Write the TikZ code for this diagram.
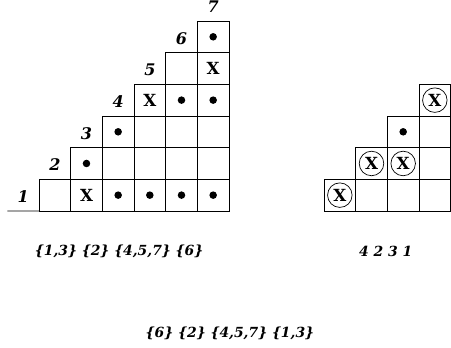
\documentclass[tikz,border=0pt]{standalone}
\usepackage{fontspec}
\setmainfont{DejaVu Serif}
\usepackage{tikz}
\usetikzlibrary{positioning}
\tikzset{
  cell/.style={draw, line width=0.6pt, minimum size=8mm, inner sep=0pt, outer sep=0pt, font=\fontsize{12}{14}\selectfont\bfseries},
  dotcell/.style={cell, path picture={\fill (path picture bounding box.center) circle[radius=0.95mm];}},
  ringcell/.style={cell, path picture={\draw[line width=0.5pt] (path picture bounding box.center) circle[radius=3.1mm];}},
  lab/.style={font=\fontsize{11.5}{14}\selectfont\bfseries\itshape, inner sep=0pt},
  word/.style={font=\fontsize{10}{12}\selectfont\bfseries\itshape, inner sep=0pt},
}
\begin{document}
\begin{tikzpicture}[x=0.8cm, y=0.8cm]
  \useasboundingbox (-0.231,-4.326) rectangle (14.01,6.662);
  % left staircase
  \node[cell] (a11) at (1.5,0.5) {};
  \node[cell] (a12) at (2.5,0.5) {X};
  \node[dotcell] (a13) at (3.5,0.5) {};
  \node[dotcell] (a14) at (4.5,0.5) {};
  \node[dotcell] (a15) at (5.5,0.5) {};
  \node[dotcell] (a16) at (6.5,0.5) {};
  \node[dotcell] (a22) at (2.5,1.5) {};
  \node[cell] (a23) at (3.5,1.5) {};
  \node[cell] (a24) at (4.5,1.5) {};
  \node[cell] (a25) at (5.5,1.5) {};
  \node[cell] (a26) at (6.5,1.5) {};
  \node[dotcell] (a33) at (3.5,2.5) {};
  \node[cell] (a34) at (4.5,2.5) {};
  \node[cell] (a35) at (5.5,2.5) {};
  \node[cell] (a36) at (6.5,2.5) {};
  \node[cell] (a44) at (4.5,3.5) {X};
  \node[dotcell] (a45) at (5.5,3.5) {};
  \node[dotcell] (a46) at (6.5,3.5) {};
  \node[cell] (a55) at (5.5,4.5) {};
  \node[cell] (a56) at (6.5,4.5) {X};
  \node[dotcell] (a66) at (6.5,5.5) {};
  \coordinate (base) at (0,0);
  \draw[line width=0.6pt] (base) -- (a11.south west);
  \node[lab] (k1) at (0.5,0.45) {1};
  \node[lab] (k2) at (1.5,1.45) {2};
  \node[lab] (k3) at (2.5,2.45) {3};
  \node[lab] (k4) at (3.5,3.45) {4};
  \node[lab] (k5) at (4.5,4.45) {5};
  \node[lab] (k6) at (5.5,5.45) {6};
  \node[lab] (k7) at (6.5,6.45) {7};
  % right staircase
  \node[ringcell] (b11) at (10.5,0.5) {X};
  \node[cell] (b12) at (11.5,0.5) {};
  \node[cell] (b13) at (12.5,0.5) {};
  \node[cell] (b14) at (13.5,0.5) {};
  \node[ringcell] (b22) at (11.5,1.5) {X};
  \node[ringcell] (b23) at (12.5,1.5) {X};
  \node[cell] (b24) at (13.5,1.5) {};
  \node[dotcell] (b33) at (12.5,2.5) {};
  \node[cell] (b34) at (13.5,2.5) {};
  \node[ringcell] (b44) at (13.5,3.5) {X};
  % words
  \node[word] (w1) at (3.53,-1.29) {\{1,3\} \{2\} \{4,5,7\} \{6\}};
  \node[word] (w2) at (11.95,-1.29) {4 2 3 1};
  \node[word] (w3) at (7.03,-3.85) {\{6\} \{2\} \{4,5,7\} \{1,3\}};
\end{tikzpicture}
\end{document}
